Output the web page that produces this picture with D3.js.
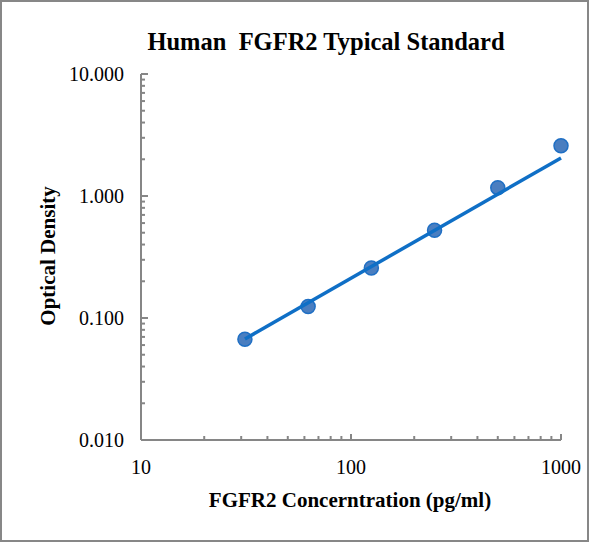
<!DOCTYPE html>
<html><head><meta charset="utf-8">
<script src="https://cdn.jsdelivr.net/npm/d3@7"></script>
<style>html,body{margin:0;padding:0;background:#fff;}svg{display:block;}</style>
</head><body>
<svg id="chart" width="589" height="542"></svg>
<script>
const concentrations = [31.25, 62.5, 125, 250, 500, 1000];
const odValues = [0.067, 0.124, 0.257, 0.524, 1.17, 2.58];
const trendX = [31.25, 1000];
const trendY = [0.0673, 2.05];
const xTickValues = [10, 100, 1000];
const xTickLabels = ["10", "100", "1000"];
const yTickValues = [0.01, 0.1, 1, 10];
const yTickLabels = ["0.010", "0.100", "1.000", "10.000"];
const titleText = "Human  FGFR2 Typical Standard";
const xTitle = "FGFR2 Concerntration (pg/ml)";
const yTitle = "Optical Density";

const svg = d3.select("#chart");
const W = 589, H = 542;
const m = {left: 141, right: 561, top: 74, bottom: 440};
const serif = "'Liberation Serif','Times New Roman',serif";
const axisColor = "#868686";

svg.append("rect").attr("x", 1).attr("y", 1).attr("width", W - 2).attr("height", H - 2)
  .attr("fill", "#fff").attr("stroke", "#878787").attr("stroke-width", 2);

const x = d3.scaleLog().domain([10, 1000]).range([m.left, m.right]);
const y = d3.scaleLog().domain([0.01, 10]).range([m.bottom, m.top]);

const minorX = [], minorY = [];
[10, 100].forEach(d => { for (let k = 2; k <= 9; k++) minorX.push(d * k); });
[0.01, 0.1, 1].forEach(d => { for (let k = 2; k <= 9; k++) minorY.push(d * k); });

const g = svg.append("g");
g.append("line").attr("x1", m.left).attr("x2", m.right).attr("y1", m.bottom).attr("y2", m.bottom)
  .attr("stroke", axisColor).attr("stroke-width", 2);
g.append("line").attr("x1", m.left).attr("x2", m.left).attr("y1", m.top).attr("y2", m.bottom)
  .attr("stroke", axisColor).attr("stroke-width", 2);

g.selectAll(".xmaj").data(xTickValues).enter().append("line")
  .attr("x1", d => x(d)).attr("x2", d => x(d)).attr("y1", m.bottom).attr("y2", m.bottom - 6)
  .attr("stroke", axisColor).attr("stroke-width", 2);
g.selectAll(".xmin").data(minorX).enter().append("line")
  .attr("x1", d => x(d)).attr("x2", d => x(d)).attr("y1", m.bottom).attr("y2", m.bottom - 4)
  .attr("stroke", axisColor).attr("stroke-width", 2);
g.selectAll(".ymaj").data(yTickValues).enter().append("line")
  .attr("x1", m.left).attr("x2", m.left + 7).attr("y1", d => y(d)).attr("y2", d => y(d))
  .attr("stroke", axisColor).attr("stroke-width", 2);
g.selectAll(".ymin").data(minorY).enter().append("line")
  .attr("x1", m.left).attr("x2", m.left + 4).attr("y1", d => y(d)).attr("y2", d => y(d))
  .attr("stroke", axisColor).attr("stroke-width", 2);

g.selectAll(".xl").data(xTickValues).enter().append("text")
  .attr("x", d => x(d)).attr("y", 474).attr("text-anchor", "middle")
  .attr("font-family", serif).attr("font-size", 20).attr("fill", "#000")
  .text((d, i) => xTickLabels[i]);
g.selectAll(".yl").data(yTickValues).enter().append("text")
  .attr("x", 124).attr("y", d => y(d) + 7).attr("text-anchor", "end")
  .attr("font-family", serif).attr("font-size", 20).attr("fill", "#000")
  .text((d, i) => yTickLabels[i]);

svg.append("text").attr("x", 326).attr("y", 50).attr("text-anchor", "middle")
  .style("white-space", "pre").attr("xml:space", "preserve")
  .attr("font-family", serif).attr("font-weight", "bold").attr("font-size", 24.5).attr("fill", "#000")
  .text(titleText);
svg.append("text").attr("x", 350).attr("y", 507).attr("text-anchor", "middle")
  .attr("font-family", serif).attr("font-weight", "bold").attr("font-size", 21).attr("fill", "#000")
  .text(xTitle);
svg.append("text").attr("transform", "translate(55,256) rotate(-90)").attr("text-anchor", "middle")
  .attr("font-family", serif).attr("font-weight", "bold").attr("font-size", 21).attr("fill", "#000")
  .text(yTitle);

svg.append("g").selectAll("circle").data(concentrations).enter().append("circle")
  .attr("cx", d => x(d)).attr("cy", (d, i) => y(odValues[i])).attr("r", 7)
  .attr("fill", "#4a7ec0").attr("stroke", "#1f6fc4").attr("stroke-width", 1.5);

const line = d3.line().x(d => x(d[0])).y(d => y(d[1]));
svg.append("path").datum(trendX.map((d, i) => [d, trendY[i]]))
  .attr("d", line).attr("fill", "none").attr("stroke", "#0f6fc6").attr("stroke-width", 3.5);
</script>
</body></html>
